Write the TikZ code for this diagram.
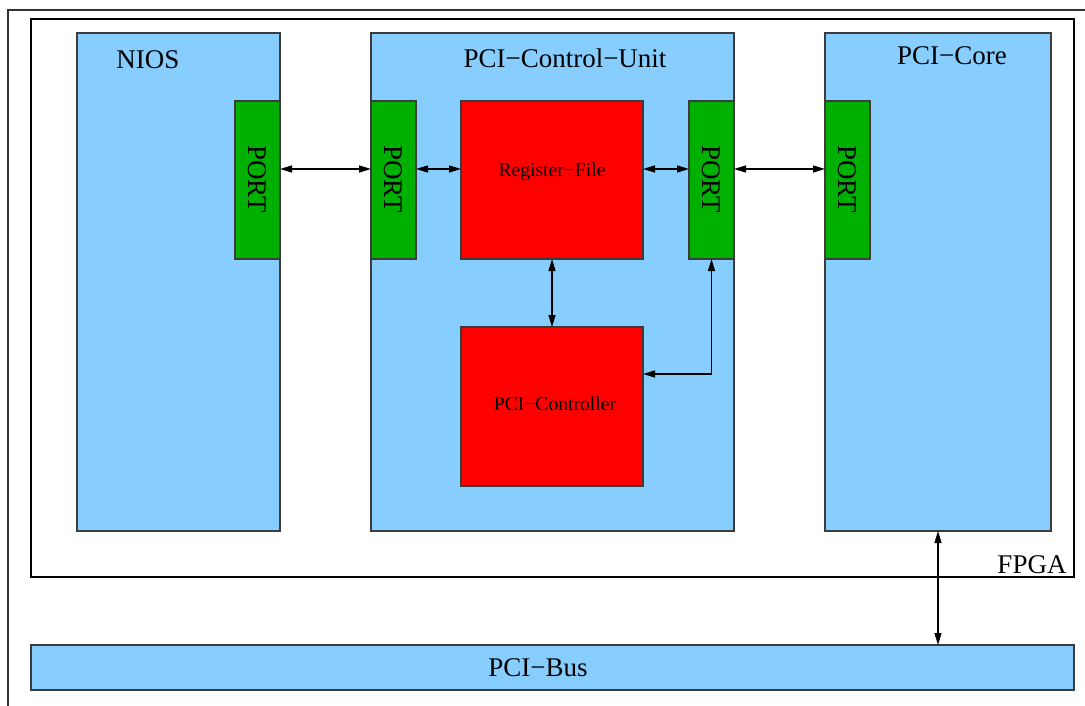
\documentclass[tikz,border=0pt]{standalone}
\usepackage{fontspec}
\setmainfont{Liberation Serif}
\usetikzlibrary{arrows.meta}
\definecolor{ltblue}{RGB}{135,206,255}
\definecolor{portgreen}{RGB}{0,176,0}
\definecolor{regred}{RGB}{255,0,0}
\definecolor{edge}{RGB}{60,60,60}
\begin{document}
\begin{tikzpicture}[x=1pt,y=-1pt,
  big/.style={font=\fontsize{27}{32}\selectfont},
  small/.style={font=\fontsize{19.6}{23}\selectfont},
  block/.style={draw=edge,line width=1.2pt,anchor=north west,inner sep=0pt,outer sep=0pt},
  unit/.style={block,fill=ltblue},
  portbox/.style={block,fill=portgreen,minimum width=45pt,minimum height=158pt},
  logic/.style={block,fill=regred,minimum width=182pt},
  caption/.style={big,anchor=base,inner sep=0pt},
  link/.style={line width=1.4pt,{Triangle[length=12pt,width=7pt]}-{Triangle[length=12pt,width=7pt]}}
]
\useasboundingbox (0,0) rectangle (1085,706);
\fill[white] (0,0) rectangle (1085,706);

% page frame
\coordinate (frameTR) at (1085,10);
\coordinate (frameTL) at (8,10);
\coordinate (frameBL) at (8,706);
\draw[line width=1.2pt,black!80] (frameTR) -- (frameTL) -- (frameBL);

% FPGA and bus
\node[block,draw=black,minimum width=1043pt,minimum height=558pt] (fpga) at (31,19) {};
\node[unit,minimum width=1043pt,minimum height=45pt] (bus) at (31,645) {};

% functional units
\node[unit,minimum width=203pt,minimum height=498pt] (nios) at (77,33) {};
\node[unit,minimum width=363pt,minimum height=498pt] (cu) at (371,33) {};
\node[unit,minimum width=226pt,minimum height=498pt] (core) at (825,33) {};

% ports
\node[portbox] (niosport) at (235,101) {};
\node[portbox] (cuportl) at (371,101) {};
\node[portbox] (cuportr) at (689,101) {};
\node[portbox] (coreport) at (825,101) {};
\foreach \p in {niosport,cuportl,cuportr,coreport}
  \node[big,rotate=-90,inner sep=0pt] (\p-text) at ([yshift=1pt]\p.center) {PORT};

% register file and controller
\node[logic,minimum height=158pt] (rf) at (461,101) {};
\node[logic,minimum height=159pt] (ctrl) at (461,327) {};
\node[small,inner sep=0pt] (rf-text) at (552,172) {Register−File};
\node[small,inner sep=0pt] (ctrl-text) at (555,404) {PCI−Controller};

% captions
\node[caption] (nios-text) at (148,69) {NIOS};
\node[caption] (cu-text) at (565,68) {PCI−Control−Unit};
\node[caption] (core-text) at (952,65) {PCI−Core};
\node[caption] (fpga-text) at (1032,573) {FPGA};
\node[caption] (bus-text) at (538,676) {PCI−Bus};

% connections
\coordinate (row) at (0,169);
\coordinate (ctrlin) at (643,374);
\draw[link] (niosport.east |- row) -- (cuportl.west |- row);
\draw[link] (cuportl.east |- row) -- (rf.west |- row);
\draw[link] (rf.east |- row) -- (cuportr.west |- row);
\draw[link] (cuportr.east |- row) -- (coreport.west |- row);
\draw[link] (rf.south) -- (ctrl.north);
\draw[link] (cuportr.south) |- (ctrlin);
\draw[link] (core.south) -- (core.south |- bus.north);
\end{tikzpicture}
\end{document}
